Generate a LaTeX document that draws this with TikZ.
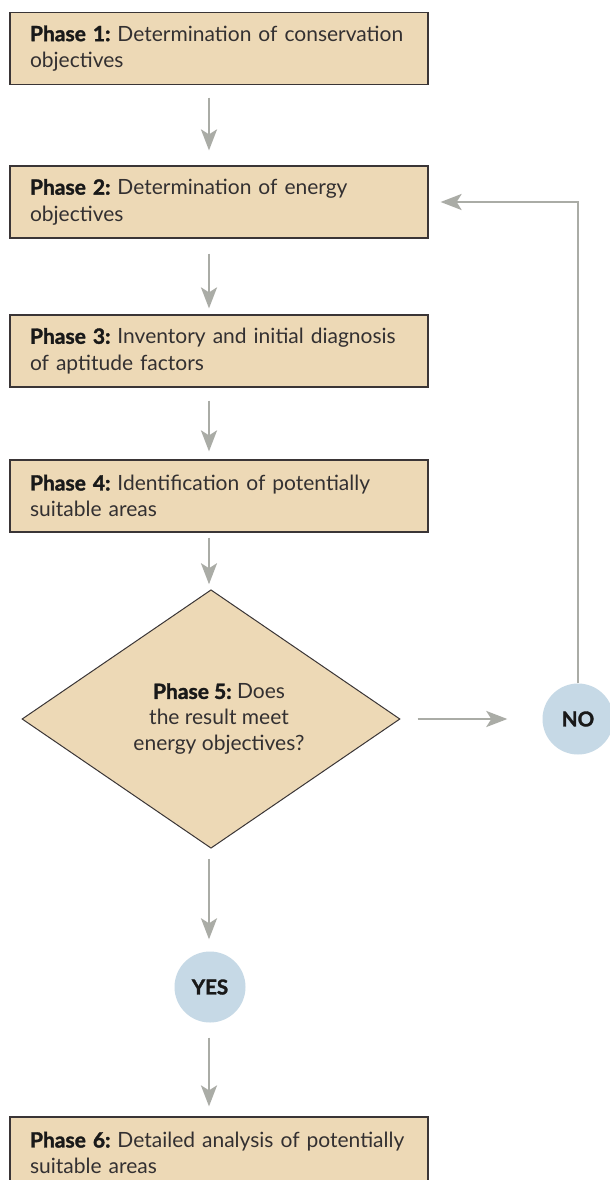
\documentclass[tikz,border=0pt]{standalone}
\usepackage{fontspec}
\setmainfont{Lato}[BoldFont={Lato Bold}, BoldFeatures={FakeBold=1.6}]
\frenchspacing
\usetikzlibrary{arrows.meta,shapes.geometric}
\definecolor{boxfill}{HTML}{EDD9B6}
\definecolor{boxline}{HTML}{3A3536}
\definecolor{arrgray}{HTML}{AAACA6}
\definecolor{circfill}{HTML}{C6D9E6}
\definecolor{txt}{HTML}{333031}
\tikzset{
  phasebox/.style={draw=boxline, line width=1.2pt, fill=boxfill, minimum width=418pt, minimum height=72pt,
    text width=378pt, inner xsep=20pt, inner ysep=0pt, align=left, text=txt,
    font=\fontsize{21pt}{26.5pt}\selectfont},
  decision/.style={draw=boxline, line width=1pt, fill=boxfill, shape=diamond, minimum width=378pt,
    minimum height=252pt, inner sep=0pt, align=center, text=txt, font=\fontsize{21pt}{26pt}\selectfont},
  answer/.style={circle, fill=circfill, minimum size=71pt, inner sep=0pt, text=black!90,
    font=\fontsize{20.5pt}{22pt}\selectfont\bfseries},
  arr/.style={draw=arrgray, line width=2.5pt, -{Stealth[length=21pt,width=16pt,inset=5pt]}},
}
\newcommand{\ph}[1]{{\bfseries\color{black!90}#1}}
\begin{document}
\begin{tikzpicture}[x=1pt,y=-1pt]
\clip (0,0) rectangle (610,1180);
\fill[white] (0,0) rectangle (610,1180);
\node[phasebox] (b1) at (219,48.5) {\ph{Phase 1:} Determination of conservation\\objectives};
\node[phasebox] (b2) at (219,202) {\ph{Phase 2:} Determination of energy\\objectives};
\node[phasebox] (b3) at (219,351) {\ph{Phase 3:} Inventory and initial diagnosis\\of aptitude factors};
\node[phasebox] (b4) at (219,496) {\ph{Phase 4:} Identification of potentially\\suitable areas};
\node[decision] (d5) at (211,719) {\hspace*{16pt}\ph{Phase 5:} Does\\\hspace*{16pt}the result meet\\\hspace*{16pt}energy objectives?};
\node[answer] (no) at (578,719) {NO};
\node[answer] (yes) at (210,987) {YES};
\node[phasebox] (b6) at (219,1153) {\ph{Phase 6:} Detailed analysis of potentially\\suitable areas};
\draw[arr, shorten <=12.5pt, shorten >=15pt] (b1.south -| 209,0) -- (b2.north -| 209,0);
\draw[arr, shorten <=15pt, shorten >=6pt] (b2.south -| 209,0) -- (b3.north -| 209,0);
\draw[arr, shorten <=13pt, shorten >=8pt] (b3.south -| 209,0) -- (b4.north -| 209,0);
\draw[arr, shorten <=5pt, shorten >=5pt] (b4.south -| 209,0) -- (d5.north -| 209,0);
\draw[arr, shorten <=10pt, shorten >=12pt] (d5.south -| 209,0) -- (yes.north -| 209,0);
\draw[arr, shorten <=15pt, shorten >=10pt] (yes.south -| 209,0) -- (b6.north -| 209,0);
\draw[arr, shorten <=17pt, shorten >=35pt] (d5.east) -- (no.west);
\draw[arr, shorten >=12pt] (no.north) |- (b2.east);
\end{tikzpicture}
\end{document}
